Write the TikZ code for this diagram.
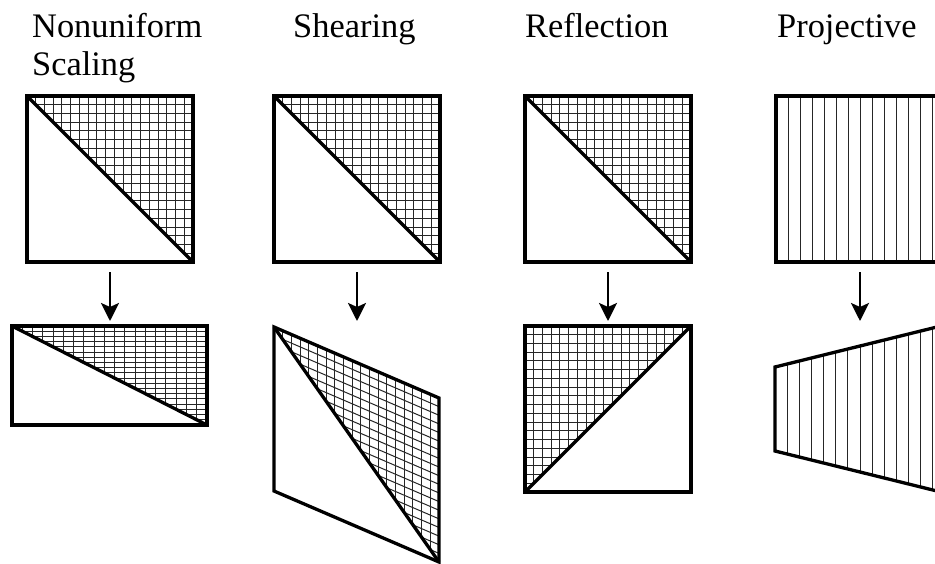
\documentclass[tikz,border=0pt]{standalone}
\usepackage{fontspec}
\setmainfont{Liberation Serif}
\usetikzlibrary{arrows.meta}
\begin{document}
\begin{tikzpicture}[x=1pt,y=-1pt,
  frame/.style={line width=3.3pt, line join=miter},
  gridline/.style={line width=1pt, black!85},
  xform/.style={line width=2.8pt, -{Stealth[length=18pt,width=18pt,inset=4pt]}},
  title/.style={anchor=base west, inner sep=0pt, font=\fontsize{34.4}{38}\selectfont}]
\useasboundingbox (0,0) rectangle (935,563);
\clip (0,0) rectangle (935,563);
\fill[white] (0,0) rectangle (935,563);

% titles
\node[title] (t1a) at (32,37) {Nonuniform};
\node[title] (t1b) at (32,75) {Scaling};
\node[title] (t2) at (293,37) {Shearing};
\node[title] (t3) at (525,37) {Reflection};
\node[title] (t4) at (777,37) {Projective};

% ---------- Nonuniform scaling ----------
\begin{scope}
  \clip (27,96) -- (193,96) -- (193,262) -- cycle;
  \foreach \i in {1,...,18} {
    \draw[gridline] ({27+\i*166/19},96) -- ++(0,166);
    \draw[gridline] (27,{96+\i*166/19}) -- ++(166,0);
  }
\end{scope}
\draw[frame] (27,96) rectangle (193,262);
\draw[frame] (27,96) -- (193,262);

\begin{scope}
  \clip (12,326) -- (207,326) -- (207,425) -- cycle;
  \foreach \i in {1,...,18} {
    \draw[gridline] ({12+\i*195/19},326) -- ++(0,99);
    \draw[gridline] (12,{326+\i*99/19}) -- ++(195,0);
  }
\end{scope}
\draw[frame] (12,326) rectangle (207,425);
\draw[frame] (12,326) -- (207,425);

% ---------- Shearing ----------
\begin{scope}
  \clip (274,96) -- (440,96) -- (440,262) -- cycle;
  \foreach \i in {1,...,18} {
    \draw[gridline] ({274+\i*166/19},96) -- ++(0,166);
    \draw[gridline] (274,{96+\i*166/19}) -- ++(166,0);
  }
\end{scope}
\draw[frame] (274,96) rectangle (440,262);
\draw[frame] (274,96) -- (440,262);

\begin{scope}
  \clip (274,327) -- (439,398) -- (439,562) -- cycle;
  \foreach \i in {1,...,18} {
    \draw[gridline] ({274+\i*165/19},300) -- ++(0,270);
    \draw[gridline] (274,{327+\i*164/19}) -- (439,{398+\i*164/19});
  }
\end{scope}
\draw[frame] (274,327) -- (439,398) -- (439,562) -- (274,491) -- cycle;
\draw[frame] (274,327) -- (439,562);

% ---------- Reflection ----------
\begin{scope}
  \clip (525,96) -- (691,96) -- (691,262) -- cycle;
  \foreach \i in {1,...,18} {
    \draw[gridline] ({525+\i*166/19},96) -- ++(0,166);
    \draw[gridline] (525,{96+\i*166/19}) -- ++(166,0);
  }
\end{scope}
\draw[frame] (525,96) rectangle (691,262);
\draw[frame] (525,96) -- (691,262);

\begin{scope}
  \clip (525,326) -- (691,326) -- (525,492) -- cycle;
  \foreach \i in {1,...,18} {
    \draw[gridline] ({525+\i*166/19},326) -- ++(0,166);
    \draw[gridline] (525,{326+\i*166/19}) -- ++(166,0);
  }
\end{scope}
\draw[frame] (525,326) rectangle (691,492);
\draw[frame] (525,492) -- (691,326);

% ---------- Projective ----------
\foreach \i in {1,...,13} {
  \draw[gridline] ({776+\i*169/14},96) -- ++(0,166);
}
\draw[frame] (776,96) rectangle (945,262);

\begin{scope}
  \clip (775,367) -- (945,325) -- (945,493) -- (775,451) -- cycle;
  \foreach \i in {1,...,13} {
    \draw[gridline] ({775+\i*170/14},300) -- ++(0,220);
  }
\end{scope}
\draw[frame] (775,367) -- (945,325) -- (945,493) -- (775,451) -- cycle;

% ---------- arrows ----------
\coordinate (a1s) at (110,272); \coordinate (a1e) at (110,321);
\coordinate (a2s) at (357,272); \coordinate (a2e) at (357,321);
\coordinate (a3s) at (608,272); \coordinate (a3e) at (608,321);
\coordinate (a4s) at (860,272); \coordinate (a4e) at (860,321);
\draw[xform] (a1s) -- (a1e);
\draw[xform] (a2s) -- (a2e);
\draw[xform] (a3s) -- (a3e);
\draw[xform] (a4s) -- (a4e);
\end{tikzpicture}
\end{document}
